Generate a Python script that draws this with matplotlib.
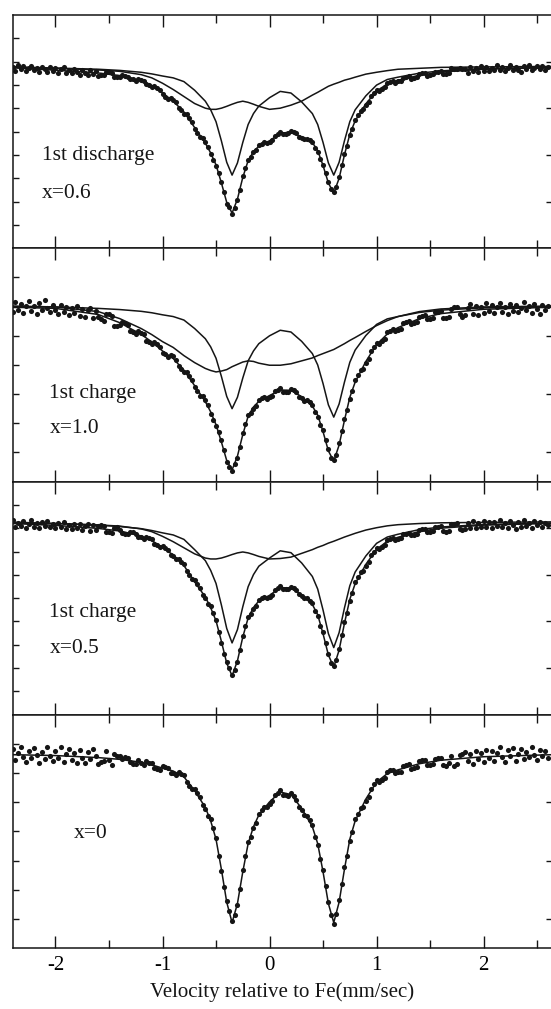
import numpy as np
import matplotlib
matplotlib.use('Agg')
import matplotlib.pyplot as plt
from matplotlib.ticker import MultipleLocator

plt.rcParams['font.family'] = ['Liberation Serif', 'DejaVu Serif']
plt.rcParams['axes.unicode_minus'] = False

# velocity grid of the fitted sub-spectra (mm/s)
vel_fit = [-2.4, -2.0, -1.6, -1.4, -1.2, -1.1, -1.0, -0.9, -0.8, -0.7, -0.6, -0.55, -0.5, -0.45,
           -0.4, -0.35, -0.3, -0.25, -0.2, -0.15, -0.1, 0.0, 0.1, 0.2, 0.3, 0.4, 0.45, 0.5, 0.55,
           0.6, 0.65, 0.7, 0.75, 0.8, 0.9, 1.0, 1.1, 1.2, 1.4, 1.6, 2.0, 2.64]
# velocity channels of the measured points (mm/s)
vel_data = np.linspace(-2.4, 2.6, 201)

# absorption (per mille) of the fitted doublets, one entry per vel_fit point
p1_site_a = [0.5, 0.8, 1.3, 1.8, 2.6, 3.3, 4.2, 5.0, 6.6, 10.3, 15.0, 18.7, 23.8, 32.0, 41.2, 46.7,
             41.5, 32.7, 25.0, 20.3, 17.1, 13.5, 10.8, 11.5, 15.3, 20.3, 25.0, 32.7, 41.5, 46.7, 41.2,
             32.0, 23.8, 18.7, 12.7, 8.1, 5.7, 4.7, 3.0, 2.0, 1.0, 0.5]
p1_site_b = [0.2, 0.9, 1.6, 2.2, 3.6, 5.0, 7.3, 10.0, 13.0, 16.0, 18.0, 18.5, 18.5, 18.0, 17.2, 16.3,
             15.5, 15.0, 15.5, 16.3, 17.2, 18.5, 18.0, 16.7, 15.0, 12.4, 11.2, 9.9, 8.6, 7.7, 6.9,
             6.0, 5.4, 4.7, 3.4, 2.6, 1.9, 1.3, 0.9, 0.5, 0.3, 0.1]
p2_site_a = [0.4, 0.5, 1.0, 1.4, 2.0, 2.5, 3.2, 3.8, 5.0, 7.9, 11.4, 14.2, 18.1, 24.3, 31.2, 35.4,
             31.5, 24.9, 19.0, 15.6, 13.1, 10.4, 8.5, 9.1, 12.3, 16.5, 20.4, 26.8, 34.1, 38.3, 33.8,
             26.3, 19.5, 15.3, 10.3, 6.5, 4.6, 3.8, 2.4, 1.6, 0.8, 0.4]
p2_site_b = [0.2, 0.5, 2.1, 4.5, 7.9, 10.0, 12.4, 14.4, 17.2, 19.6, 21.6, 22.3, 22.8, 22.5, 22.0, 21.0,
             20.2, 19.4, 19.0, 19.2, 19.8, 20.5, 20.5, 20.0, 19.0, 18.0, 17.2, 16.5, 15.8, 15.1, 14.1,
             13.1, 12.0, 11.0, 8.9, 6.9, 5.2, 3.8, 2.1, 1.2, 0.5, 0.2]
p3_site_a = [0.6, 0.8, 1.5, 2.1, 3.0, 3.8, 4.8, 5.7, 7.6, 12.0, 16.7, 20.9, 26.5, 35.7, 45.8, 52.0,
             46.3, 36.5, 27.9, 22.7, 19.1, 15.6, 12.5, 13.3, 17.7, 23.5, 28.9, 37.9, 48.0, 54.0, 47.6,
             37.0, 27.5, 21.6, 14.7, 9.3, 6.6, 5.4, 3.4, 2.3, 1.2, 0.6]
p3_site_b = [0.2, 0.8, 1.4, 1.9, 3.1, 4.3, 6.3, 8.6, 11.2, 13.8, 15.6, 16.0, 16.0, 15.6, 14.9, 14.1,
             13.4, 13.0, 13.4, 14.1, 14.9, 16.0, 15.8, 15.2, 13.6, 12.0, 11.0, 10.2, 9.2, 8.4, 7.5,
             6.6, 5.8, 5.0, 3.6, 2.6, 1.8, 1.3, 0.8, 0.5, 0.3, 0.1]
p4_site_a = [0.6, 0.9, 1.6, 2.2, 3.2, 4.1, 5.2, 6.2, 8.2, 12.9, 18.7, 23.3, 29.6, 39.9, 51.2, 58.2,
             51.7, 40.8, 31.1, 25.3, 21.3, 16.8, 13.4, 14.3, 19.0, 25.3, 31.1, 40.8, 51.7, 58.2, 51.2,
             39.9, 29.6, 23.3, 15.8, 10.0, 7.1, 5.8, 3.7, 2.5, 1.3, 0.6]

# measured absorption (per mille), one entry per vel_data channel
p1_counts = [0.2, 1.9, -0.4, 1.3, 0.1, 2.2, 0.6, -0.3, 1.8, 0.9,
             2.6, 0.2, 1.1, 2.4, 0.5, 1.9, 0.8, 2.7, 1.2, 0.3,
             2.9, 1.6, 3.0, 1.0, 2.6, 3.8, 1.5, 2.9, 3.7, 1.8,
             3.3, 2.1, 4.2, 3.6, 3.9, 2.4, 2.3, 3.1, 4.8, 4.7,
             4.6, 3.9, 4.1, 4.5, 5.7, 5.7, 6.2, 5.5, 5.8, 6.3,
             7.8, 8.2, 8.9, 8.6, 9.5, 10.2, 12.1, 13.0, 13.9, 13.6,
             14.4, 15.5, 18.0, 18.9, 20.3, 20.7, 22.3, 24.1, 26.9, 28.6,
             30.3, 30.8, 32.5, 34.6, 37.8, 40.2, 42.8, 45.6, 49.5, 53.8,
             58.9, 60.2, 63.4, 60.6, 57.5, 52.9, 47.1, 43.7, 40.1, 39.1,
             37.0, 35.9, 33.9, 33.2, 32.7, 33.0, 32.5, 31.8, 30.0, 29.2,
             28.4, 29.1, 29.0, 28.8, 27.8, 28.2, 28.8, 30.3, 30.7, 31.4,
             31.1, 31.6, 32.3, 34.9, 36.7, 40.0, 42.2, 45.8, 49.6, 52.8,
             54.0, 51.8, 47.6, 42.5, 37.6, 34.1, 29.7, 26.9, 23.0, 21.1,
             19.3, 18.5, 16.6, 15.3, 12.9, 11.5, 10.3, 10.5, 9.7, 9.0,
             7.2, 6.6, 6.3, 7.0, 6.5, 6.3, 4.9, 4.7, 4.4, 5.3,
             5.0, 4.8, 3.3, 3.1, 3.0, 4.0, 3.8, 3.5, 2.3, 2.3,
             2.1, 3.5, 3.4, 2.9, 0.9, 1.0, 1.4, 0.6, 1.0, 1.1,
             2.7, 0.5, 2.2, 0.8, 2.6, -0.2, 1.9, 0.4, 2.1, 0.7,
             1.8, -0.4, 1.6, 0.3, 2.2, 0.9, -0.6, 1.7, 0.2, 1.5,
             2.3, 0.0, 1.2, -0.5, 1.6, 0.6, -0.3, 1.4, 0.1, 1.7,
             0.4]
p2_counts = [2.1, -1.2, 1.5, -0.4, 2.6, 0.3, -1.5, 1.9, 0.1, 2.8,
             -0.7, 1.4, -1.9, 0.8, 2.3, -0.2, 1.7, 3.0, -0.1, 2.2,
             0.4, 3.1, 0.9, 2.5, 0.2, 3.6, 1.1, 3.9, 1.6, 0.8,
             4.3, 1.9, 4.0, 4.7, 5.4, 2.9, 3.0, 3.5, 7.1, 6.9,
             6.6, 5.7, 6.1, 6.6, 8.7, 9.1, 9.9, 8.7, 9.3, 9.9,
             12.1, 12.6, 13.2, 12.7, 13.2, 14.2, 16.3, 16.8, 17.7, 16.9,
             17.5, 18.6, 20.9, 21.9, 22.8, 22.9, 24.2, 25.6, 28.1, 29.5,
             30.9, 31.0, 32.4, 34.2, 37.1, 39.3, 41.5, 43.3, 46.3, 49.6,
             53.8, 55.3, 56.9, 54.5, 52.3, 48.6, 43.7, 40.6, 37.5, 37.0,
             35.4, 34.4, 32.4, 31.8, 31.4, 32.0, 31.4, 31.0, 29.3, 29.0,
             28.4, 29.6, 29.6, 29.7, 28.6, 29.1, 29.7, 31.3, 31.9, 32.7,
             32.4, 33.1, 34.0, 36.6, 38.2, 41.0, 42.8, 46.1, 49.4, 52.2,
             53.1, 51.2, 47.3, 43.1, 38.9, 36.0, 32.1, 29.5, 25.7, 23.9,
             22.1, 21.7, 19.8, 18.4, 15.7, 14.2, 12.8, 13.2, 12.3, 11.4,
             9.2, 8.6, 8.1, 8.8, 8.3, 8.0, 6.1, 5.7, 5.3, 6.5,
             6.1, 5.7, 3.8, 3.5, 3.3, 4.7, 4.5, 4.3, 2.4, 2.2,
             2.0, 4.3, 4.3, 3.8, 1.1, 0.6, 0.6, 2.9, 3.8, 3.4,
             1.0, -0.6, 2.8, 0.2, 3.1, 0.5, 2.6, -0.8, 1.9, 0.0,
             2.7, 0.4, -1.0, 2.3, 0.6, 2.9, -0.5, 1.8, -0.2, 2.4,
             0.7, -1.3, 1.6, 0.1, 2.5, -0.6, 1.3, 2.8, -0.1, 1.5,
             0.2]
p3_counts = [-0.9, 2.3, 0.4, 1.9, -0.3, 2.6, 1.0, -0.5, 2.1, 0.6,
             2.9, 0.2, 1.7, -0.1, 2.4, 0.9, 2.8, 0.7, 2.5, 0.3,
             3.2, 1.4, 3.3, 0.8, 2.9, 1.2, 3.6, 1.7, 0.9, 3.8,
             1.5, 3.4, 1.8, 1.6, 2.0, 4.3, 4.3, 5.0, 2.7, 2.5,
             3.6, 5.0, 5.1, 5.5, 4.5, 4.6, 5.1, 6.5, 6.7, 7.3,
             6.5, 7.0, 7.6, 9.5, 10.2, 11.0, 10.6, 11.3, 12.1, 14.2,
             14.9, 16.1, 15.9, 17.1, 18.2, 21.2, 23.0, 24.7, 25.2, 26.8,
             28.4, 31.3, 32.9, 35.2, 36.3, 39.1, 42.0, 47.5, 51.9, 56.6,
             60.2, 62.8, 65.7, 63.5, 60.3, 55.2, 48.9, 44.8, 40.7, 39.6,
             37.4, 36.0, 33.5, 32.9, 32.2, 32.8, 32.2, 31.4, 29.4, 28.5,
             27.8, 28.9, 29.0, 29.0, 28.0, 28.6, 29.4, 31.2, 31.9, 32.9,
             32.8, 33.9, 35.0, 38.3, 40.5, 44.6, 47.5, 52.1, 56.6, 60.4,
             62.0, 59.3, 54.5, 48.8, 43.0, 39.0, 33.9, 30.6, 26.0, 23.9,
             21.8, 21.1, 18.9, 17.4, 14.5, 12.8, 11.3, 11.7, 10.8, 10.0,
             7.8, 7.3, 6.9, 7.9, 7.4, 7.2, 5.4, 5.1, 4.7, 5.9,
             5.6, 5.3, 3.5, 3.2, 3.0, 4.5, 4.3, 4.1, 2.4, 2.3,
             2.0, 4.2, 4.4, 3.9, 1.2, 1.1, 0.5, 3.0, 3.5, 3.3,
             0.4, 2.6, -0.2, 2.9, 0.6, 2.4, -0.1, 2.2, 0.3, 2.7,
             0.1, 1.9, -0.6, 2.5, 0.7, 2.8, -0.3, 1.6, 3.0, 0.2,
             2.1, -0.5, 1.8, 0.4, 2.6, -0.2, 1.5, 0.0, 2.3, 0.6,
             1.4]
p4_counts = [-1.4, 2.3, 0.1, -2.0, 1.5, 3.0, -0.8, 1.9, -1.7, 0.6,
             3.4, -0.3, 2.2, -1.9, 0.9, 2.8, -0.6, 1.7, -2.2, 3.1,
             0.4, -1.3, 2.5, 0.0, 3.6, -0.9, 1.8, 3.3, -0.4, 2.0,
             -1.5, 1.2, 3.8, 3.1, 2.6, -0.7, 2.4, 4.0, 0.5, 1.1,
             1.0, 2.2, 1.5, 1.7, 3.1, 3.8, 3.9, 2.3, 3.4, 4.3,
             2.8, 3.5, 3.3, 5.2, 5.5, 5.7, 4.5, 4.7, 5.0, 6.8,
             6.8, 7.5, 6.6, 7.1, 7.7, 10.0, 11.2, 12.3, 12.4, 13.8,
             15.2, 17.8, 19.3, 21.6, 22.8, 25.9, 29.1, 35.3, 40.5, 46.1,
             50.7, 54.2, 57.8, 55.5, 52.3, 46.8, 40.3, 35.4, 30.6, 28.8,
             25.9, 23.9, 20.8, 19.6, 18.5, 18.6, 17.4, 16.5, 14.5, 13.6,
             12.8, 14.3, 14.5, 14.7, 13.7, 14.9, 16.0, 18.5, 19.6, 21.3,
             21.5, 23.1, 24.8, 28.8, 31.7, 36.5, 40.2, 45.7, 51.2, 55.5,
             58.6, 55.3, 50.6, 45.0, 39.3, 35.3, 30.2, 27.0, 22.8, 20.8,
             18.9, 18.4, 16.4, 15.0, 12.3, 10.7, 9.4, 10.1, 9.3, 8.7,
             6.5, 6.0, 5.7, 7.0, 6.6, 6.5, 4.5, 4.1, 3.8, 5.4,
             5.1, 4.9, 2.8, 2.5, 2.5, 4.1, 4.2, 3.7, 2.0, 1.6,
             1.6, 4.1, 4.5, 3.6, 1.0, 4.6, 3.8, 0.7, 0.5, -0.2,
             2.6, 0.3, 3.9, -0.8, 2.2, 0.1, 3.1, -1.1, 1.7, -0.5,
             2.8, 0.0, -2.0, 1.4, 3.2, -0.9, 1.0, -1.8, 2.6, 0.4,
             -1.2, 2.0, -0.3, 1.5, -2.1, 0.8, 2.4, -1.0, 1.1, -0.7,
             1.9]

labels = ['1st discharge\nx=0.6', '1st charge\nx=1.0', '1st charge\nx=0.5', 'x=0']
counts = [p1_counts, p2_counts, p3_counts, p4_counts]
sites = [[p1_site_a, p1_site_b], [p2_site_a, p2_site_b], [p3_site_a, p3_site_b], [p4_site_a]]

# panel layout: transmission (%) shown above baseline, number of 1% steps per panel
y_top = [102.19, 101.96, 101.72, 101.31]
n_steps = [10, 8, 10, 8]
label_pos = [(0.055, 0.40, 0.236), (0.068, 0.378, 0.227), (0.068, 0.438, 0.283), (0.114, 0.49, None)]

ink = '#151515'
fig, axes = plt.subplots(4, 1, sharex=True, figsize=(5.51, 10.09), dpi=100)
fig.subplots_adjust(left=0.023, right=1.001, top=0.985, bottom=0.0605, hspace=0)

for i, ax in enumerate(axes):
    vf = np.array(vel_fit)
    comps = [np.array(c) for c in sites[i]]
    for c in comps:
        ax.plot(vf, 100 - c / 10, color=ink, lw=1.1)
    if len(comps) > 1:
        ax.plot(vf, 100 - sum(comps) / 10, color=ink, lw=1.1)
    ax.plot(vel_data, 100 - np.array(counts[i]) / 10, 'o', color=ink, ms=3.7, mew=0)

    top = y_top[i]
    n = n_steps[i]
    ax.set_ylim(top - n, top)
    ticks = top - np.arange(1, n)
    if n == 10:
        major = ticks[1::2]
        minor = ticks[0::2]
    else:
        major = ticks[2::2]
        minor = np.concatenate([ticks[:2], ticks[3::2]])
    ax.set_yticks(major)
    ax.set_yticks(minor, minor=True)
    ax.tick_params(axis='y', which='both', direction='in', left=True, right=False,
                   labelleft=False, length=4.5, width=1.0, color=ink)
    ax.tick_params(axis='y', which='major', right=True)

    ax.xaxis.set_major_locator(MultipleLocator(1))
    ax.xaxis.set_minor_locator(MultipleLocator(0.5))
    ax.tick_params(axis='x', which='both', direction='in', top=True, bottom=True,
                   width=1.0, color=ink, labelsize=15, pad=6)
    ax.tick_params(axis='x', which='major', length=8.8)
    ax.tick_params(axis='x', which='minor', length=5.8)
    for s in ax.spines.values():
        s.set_linewidth(1.1)
        s.set_color(ink)

    lx, ly1, ly2 = label_pos[i]
    lines = labels[i].split('\n')
    ax.text(lx, ly1, lines[0], transform=ax.transAxes, fontsize=15.5, va='center', ha='left', color=ink)
    if ly2 is not None:
        ax.text(lx, ly2, lines[1], transform=ax.transAxes, fontsize=15.5, va='center', ha='left', color=ink)

axes[-1].set_xlim(-2.4, 2.635)
axes[-1].set_xlabel('Velocity relative to Fe(mm/sec)', fontsize=15, labelpad=5, color=ink)

fig.savefig('out.png', dpi=100)
